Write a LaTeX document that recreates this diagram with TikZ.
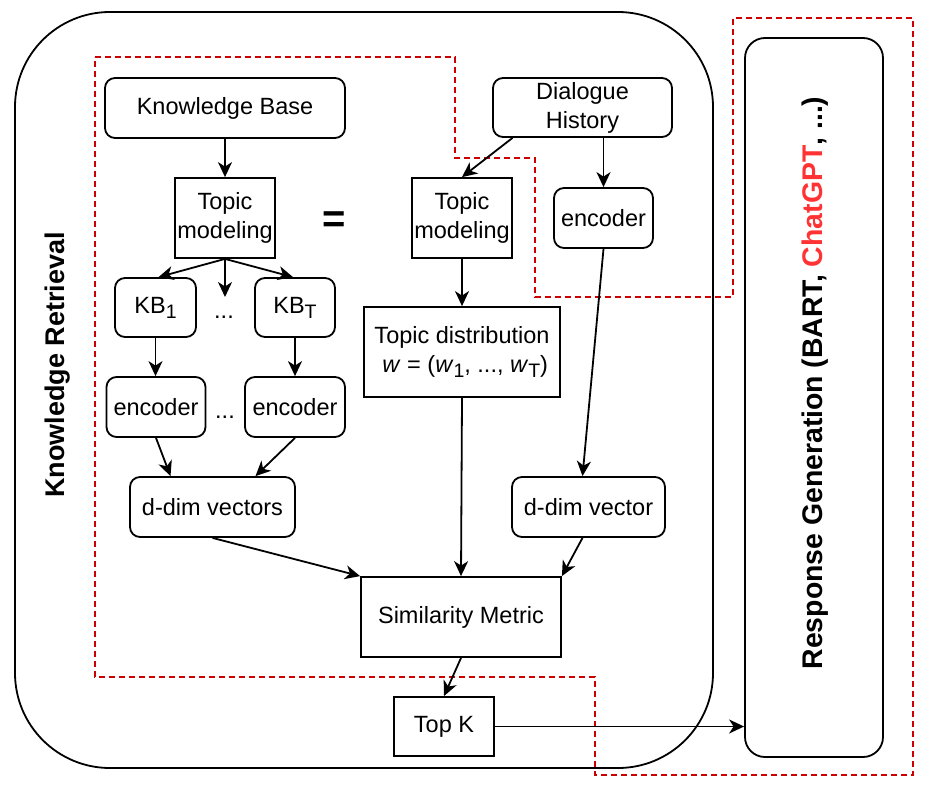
\documentclass[tikz,border=0pt]{standalone}
\usepackage{fontspec}
\setmainfont{Liberation Sans}
\usetikzlibrary{arrows.meta,calc}
\definecolor{dashred}{HTML}{CC0000}
\definecolor{gptred}{HTML}{FF3333}
\newcommand{\sbs}[1]{\raisebox{-0.22em}{\fontsize{19.5}{20}\selectfont #1}}
\begin{document}
\begin{tikzpicture}[x=1pt,y=-1pt,
  every node/.style={font=\fontsize{23.5}{29}\selectfont, inner sep=0pt, align=center},
  sqbox/.style={draw, line width=1.8pt},
  rbox/.style={draw, line width=1.8pt, rounded corners=10pt},
  arr/.style={-{Stealth[length=15pt,width=14pt,inset=4.5pt]}, line width=1.8pt},
  bigtitle/.style={font=\fontsize{27}{30}\selectfont\bfseries, rotate=90},
  reddash/.style={draw=dashred, line width=1.6pt, dash pattern=on 6pt off 4pt}
]
\useasboundingbox (0,0) rectangle (928,790);

% outer boxes
\draw[line width=1.8pt, rounded corners=95pt] (15,12) rectangle (713,768);
\node[bigtitle] (krt) at (58,365) {Knowledge Retrieval};
\node[draw, line width=1.8pt, rounded corners=20pt, minimum width=138pt, minimum height=719pt] (rg) at (814,397.5) {};
\node[bigtitle, font=\fontsize{28.4}{30}\selectfont\bfseries] (rgt) at (815,383) {Response Generation (BART, \textcolor{gptred}{ChatGPT}, ...)};

% red dashed outline
\draw[reddash] (95,57) -- (455,57) -- (455,158) -- (535,158) -- (535,297) -- (733,297) -- (733,18) -- (913,18) -- (913,775) -- (595,775) -- (595,677) -- (95,677) -- cycle;

% nodes
\node[rbox, minimum width=240pt, minimum height=60pt] (kb) at (225,108) {Knowledge Base};
\node[rbox, minimum width=179pt, minimum height=59pt] (dh) at (582.5,107.5) {Dialogue\\History};
\node[sqbox, minimum width=100pt, minimum height=80pt] (tm1) at (225,218) {Topic\\modeling};
\node[font=\fontsize{40}{40}\selectfont\bfseries] (eq) at (334,222) {=};
\node[sqbox, minimum width=100pt, minimum height=80pt] (tm2) at (462,218) {Topic\\modeling};
\node[rbox, minimum width=99pt, minimum height=60pt] (enc3) at (603.5,218) {encoder};
\node[rbox, minimum width=81pt, minimum height=59pt] (kb1) at (155.5,307.5) {KB\sbs{1}};
\node[anchor=base] (dots1) at (224,318) {...};
\node[rbox, minimum width=80pt, minimum height=59pt] (kbt) at (295,307.5) {KB\sbs{T}};
\coordinate (midtip) at (225,297);
\node[sqbox, minimum width=196pt, minimum height=90pt] (td) at (462,352) {Topic distribution\\ \ \textit{w} = (\textit{w}\sbs{1}, ..., \textit{w}\sbs{T})};
\node[rbox, minimum width=99pt, minimum height=60pt] (enc1) at (156,407) {encoder};
\node[anchor=base] (dots2) at (225,418) {...};
\node[rbox, minimum width=100pt, minimum height=60pt] (enc2) at (295,407) {encoder};
\node[rbox, minimum width=165pt, minimum height=60pt] (ddv) at (212.5,507) {d-dim vectors};
\node[rbox, minimum width=153pt, minimum height=60pt] (ddvr) at (588.5,507) {d-dim vector};
\node[sqbox, minimum width=200pt, minimum height=80pt] (sim) at (461,617) {Similarity Metric};
\node[sqbox, minimum width=100pt, minimum height=59pt] (topk) at (444,726.5) {Top K};

% connectors
\draw[arr] (kb.south) -- (tm1.north);
\draw[arr] ($(dh.south)+(-70,0)$) -- (tm2.north);
\draw[arr] (enc3.north |- dh.south) -- (enc3.north);
\draw[arr] (tm1.south) -- ($(kb1.north)+(3,0)$);
\draw[arr] (tm1.south) -- (midtip);
\draw[arr] (tm1.south) -- ($(kbt.north)+(-2,0)$);
\draw[arr] (kb1.south) -- (kb1.south |- enc1.north);
\draw[arr] (kbt.south) -- (enc2.north);
\draw[arr] (tm2.south) -- (td.north);
\draw[arr] (enc1.south) -- ($(ddv.north)+(-42,0)$);
\draw[arr] (enc2.south) -- ($(ddv.north)+(43,0)$);
\draw[arr] (enc3.south) -- ($(ddvr.north)+(-6,0)$);
\draw[arr] (ddv.south) -- (sim.north west);
\draw[arr] (td.south) -- (sim.north);
\draw[arr] ($(ddvr.south)+(-6,0)$) -- (sim.north east);
\draw[arr] (sim.south) -- (topk.north);
\draw[arr] (topk.east) -- (topk.east -| rg.west);
\end{tikzpicture}
\end{document}
